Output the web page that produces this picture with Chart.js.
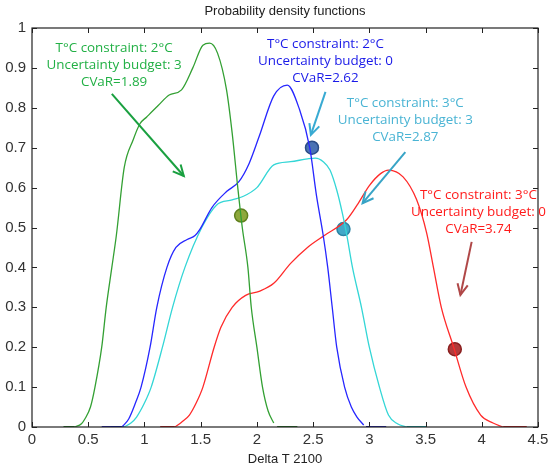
<!DOCTYPE html>
<html>
<head>
<meta charset="utf-8">
<script src="https://cdn.jsdelivr.net/npm/chart.js@4.4.1/dist/chart.umd.min.js"></script>
<style>
html,body{margin:0;padding:0;background:#fff;}
#wrap{width:550px;height:469px;position:relative;}
</style>
</head>
<body>
<div id="wrap"><canvas id="c" width="550" height="469"></canvas></div>
<script>
// ---- data ----
const xTicks = [0, 0.5, 1, 1.5, 2, 2.5, 3, 3.5, 4, 4.5];
const yTicks = [0, 0.1, 0.2, 0.3, 0.4, 0.5, 0.6, 0.7, 0.8, 0.9, 1];
const xTickLabels = ['0', '0.5', '1', '1.5', '2', '2.5', '3', '3.5', '4', '4.5'];
const yTickLabels = ['0', '0.1', '0.2', '0.3', '0.4', '0.5', '0.6', '0.7', '0.8', '0.9', '1'];

// green: T 2°C, budget 3
const greenX = [0.38, 0.44, 0.47, 0.52, 0.56, 0.62, 0.66, 0.71, 0.75, 0.82, 0.9, 0.96, 1.02, 1.12, 1.22, 1.33, 1.43, 1.52, 1.58, 1.65, 1.73, 1.78, 1.83, 1.87, 1.92, 1.95, 2.0, 2.05, 2.1, 2.15];
const greenY = [0.0, 0.008, 0.02, 0.05, 0.1, 0.2, 0.3, 0.4, 0.48, 0.65, 0.72, 0.76, 0.777, 0.805, 0.832, 0.845, 0.9, 0.957, 0.962, 0.937, 0.845, 0.737, 0.6, 0.5, 0.4, 0.3, 0.2, 0.1, 0.04, 0.01];
const greenFlatX = [[0.28, 0.38], [2.18, 2.36]];

// blue: T 2°C, budget 0
const blueX = [0.8, 0.86, 0.92, 0.97, 1.05, 1.11, 1.2, 1.28, 1.38, 1.45, 1.49, 1.6, 1.73, 1.84, 1.93, 2.02, 2.15, 2.27, 2.38, 2.47, 2.53, 2.59, 2.63, 2.67, 2.71, 2.78, 2.84, 2.89, 2.95];
const blueY = [0.0, 0.02, 0.06, 0.1, 0.2, 0.3, 0.4, 0.45, 0.47, 0.48, 0.494, 0.55, 0.59, 0.615, 0.66, 0.728, 0.83, 0.857, 0.795, 0.70, 0.58, 0.48, 0.4, 0.3, 0.2, 0.1, 0.05, 0.025, 0.005];
const blueFlatX = [[0.62, 0.8], [2.97, 3.15]];

// cyan: T 3°C, budget 3
const cyanX = [0.82, 0.88, 0.93, 1.0, 1.06, 1.16, 1.25, 1.36, 1.51, 1.64, 1.78, 1.87, 2.0, 2.15, 2.3, 2.45, 2.52, 2.59, 2.65, 2.71, 2.76, 2.8, 2.85, 2.93, 3.0, 3.09, 3.17, 3.25, 3.33];
const cyanY = [0.0, 0.01, 0.025, 0.06, 0.1, 0.2, 0.3, 0.4, 0.5, 0.556, 0.569, 0.577, 0.6, 0.657, 0.665, 0.672, 0.674, 0.665, 0.644, 0.594, 0.536, 0.48, 0.4, 0.3, 0.2, 0.1, 0.03, 0.008, 0.0];
const cyanFlatX = [[0.7, 0.82], [3.33, 3.51]];

// red: T 3°C, budget 0
const redX = [1.27, 1.33, 1.4, 1.46, 1.52, 1.62, 1.68, 1.78, 1.9, 2.02, 2.15, 2.3, 2.45, 2.6, 2.8, 2.9, 3.0, 3.1, 3.17, 3.3, 3.42, 3.51, 3.57, 3.64, 3.75, 3.86, 3.99, 4.1, 4.19];
const redY = [0.0, 0.012, 0.03, 0.06, 0.1, 0.2, 0.25, 0.3, 0.33, 0.34, 0.36, 0.41, 0.45, 0.48, 0.52, 0.56, 0.605, 0.635, 0.644, 0.627, 0.57, 0.486, 0.4, 0.3, 0.2, 0.1, 0.03, 0.01, 0.0];
const redFlatX = [[1.14, 1.27], [4.19, 4.4]];

// CVaR markers
const markerX = [1.86, 2.49, 2.77, 3.76];
const markerY = [0.53, 0.70, 0.496, 0.195];

// annotation texts
const labelLines = [
  ["T°C constraint: 2°C", "Uncertainty budget: 3", "CVaR=1.89"],
  ["T°C constraint: 2°C", "Uncertainty budget: 0", "CVaR=2.62"],
  ["T°C constraint: 3°C", "Uncertainty budget: 3", "CVaR=2.87"],
  ["T°C constraint: 3°C", "Uncertainty budget: 0", "CVaR=3.74"]
];
const labelX = [0.73, 2.61, 3.32, 3.97];
const labelY = [0.95, 0.96, 0.812, 0.581];
const arrowFrom = [[0.71, 0.835], [2.61, 0.84], [3.32, 0.689], [3.91, 0.464]];
const arrowTo = [[1.35, 0.629], [2.48, 0.732], [2.94, 0.561], [3.81, 0.331]];

// ---- styles ----
const lineColors = ['#33a033', '#2626ff', '#33d6d6', '#ff2a2a'];
const flatColors = ['#0a6a0a', '#0000b0', '#00a8a8', '#cc0000'];
const markerFill = ['#8ea83c', '#4a72b4', '#42a8c8', '#b23a3a'];
const markerBorder = ['#60801e', '#2a4c86', '#2a84a4', '#8a2020'];
const textColors = ['#22b045', '#1a1ae8', '#4ab4d4', '#ff1a1a'];
const arrowColors = ['#1aa040', '#38aad2', '#38a4c6', '#b04848'];

function pts(xs, ys){ return xs.map((x,i)=>({x:x,y:ys[i]})); }
function curve(xs, ys, color){
  return {data: pts(xs, ys), showLine:true, borderColor:color, borderWidth:1.3, pointRadius:0, cubicInterpolationMode:'monotone', fill:false};
}
function flats(segs, color){
  return segs.map(s=>({data:[{x:s[0],y:0},{x:s[1],y:0}], showLine:true, borderColor:color, borderWidth:1.8, pointRadius:0, fill:false}));
}

const datasets = [];
datasets.push(curve(greenX, greenY, lineColors[0]));
datasets.push(curve(blueX, blueY, lineColors[1]));
datasets.push(curve(cyanX, cyanY, lineColors[2]));
datasets.push(curve(redX, redY, lineColors[3]));
[greenFlatX, blueFlatX, cyanFlatX, redFlatX].forEach((s,i)=>flats(s, flatColors[i]).forEach(d=>datasets.push(d)));
datasets.push({
  data: pts(markerX, markerY), showLine:false, pointRadius:6.5, pointHoverRadius:6.5,
  pointBackgroundColor: markerFill, pointBorderColor: markerBorder, pointBorderWidth:1.5
});

const FONT = '"Liberation Sans", Arial, sans-serif';

const decor = {
  id:'decor',
  afterDraw(chart){
    const ctx = chart.ctx, xs = chart.scales.x, ys = chart.scales.y, a = chart.chartArea;
    ctx.save();
    // box
    ctx.strokeStyle = '#222'; ctx.lineWidth = 1.2;
    ctx.strokeRect(a.left, a.top, a.right - a.left, a.bottom - a.top);
    // ticks inward on all four sides
    ctx.lineWidth = 1;
    const tl = 5;
    xTicks.forEach(v=>{
      const p = Math.round(xs.getPixelForValue(v)) + 0.5;
      ctx.beginPath(); ctx.moveTo(p, a.bottom); ctx.lineTo(p, a.bottom - tl); ctx.stroke();
      ctx.beginPath(); ctx.moveTo(p, a.top); ctx.lineTo(p, a.top + tl); ctx.stroke();
    });
    yTicks.forEach(v=>{
      const p = Math.round(ys.getPixelForValue(v)) + 0.5;
      ctx.beginPath(); ctx.moveTo(a.left, p); ctx.lineTo(a.left + tl, p); ctx.stroke();
      ctx.beginPath(); ctx.moveTo(a.right, p); ctx.lineTo(a.right - tl, p); ctx.stroke();
    });
    // tick labels
    ctx.fillStyle = '#333';
    ctx.font = '15px ' + FONT;
    ctx.textBaseline = 'middle';
    ctx.textAlign = 'center';
    xTicks.forEach((v,i)=> ctx.fillText(xTickLabels[i], xs.getPixelForValue(v), a.bottom + 13));
    ctx.textAlign = 'right';
    yTicks.forEach((v,i)=> ctx.fillText(yTickLabels[i], a.left - 6, ys.getPixelForValue(v)));
    // title and x label
    ctx.fillStyle = '#222';
    ctx.font = '13px ' + FONT;
    ctx.textAlign = 'center'; ctx.textBaseline = 'middle';
    ctx.fillText('Probability density functions', (a.left + a.right)/2, 11);
    ctx.fillText('Delta T 2100', (a.left + a.right)/2, 459);
    // annotations
    ctx.font = '13.4px "Open Sans", ' + FONT;
    labelLines.forEach((lines, i)=>{
      ctx.fillStyle = textColors[i];
      const cx = xs.getPixelForValue(labelX[i]);
      const cy = ys.getPixelForValue(labelY[i]);
      lines.forEach((t, j)=> ctx.fillText(t, cx, cy + j*17));
    });
    // arrows
    arrowFrom.forEach((f, i)=>{
      const x1 = xs.getPixelForValue(f[0]), y1 = ys.getPixelForValue(f[1]);
      const x2 = xs.getPixelForValue(arrowTo[i][0]), y2 = ys.getPixelForValue(arrowTo[i][1]);
      ctx.strokeStyle = arrowColors[i]; ctx.lineWidth = 2;
      ctx.beginPath(); ctx.moveTo(x1, y1); ctx.lineTo(x2, y2); ctx.stroke();
      const ang = Math.atan2(y2 - y1, x2 - x1), hl = 12, ha = 0.45;
      ctx.beginPath();
      ctx.moveTo(x2 - hl*Math.cos(ang - ha), y2 - hl*Math.sin(ang - ha));
      ctx.lineTo(x2, y2);
      ctx.lineTo(x2 - hl*Math.cos(ang + ha), y2 - hl*Math.sin(ang + ha));
      ctx.stroke();
    });
    ctx.restore();
  }
};

new Chart(document.getElementById('c'), {
  type: 'scatter',
  data: { datasets: datasets },
  options: {
    responsive: false,
    animation: false,
    events: [],
    layout: { padding: { left: 0, right: 12, top: 28, bottom: 0 } },
    plugins: { legend: { display:false }, tooltip: { enabled:false }, title: { display:false } },
    scales: {
      x: {
        type:'linear', min:0, max:4.5,
        afterFit(s){ s.height = 42; },
        afterBuildTicks(s){ s.ticks = xTicks.map(v=>({value:v})); },
        grid: { display:false },
        border: { display:false },
        ticks: { display:false }
      },
      y: {
        type:'linear', min:0, max:1,
        afterFit(s){ s.width = 32; },
        afterBuildTicks(s){ s.ticks = yTicks.map(v=>({value:v})); },
        grid: { display:false },
        border: { display:false },
        ticks: { display:false }
      }
    }
  },
  plugins: [decor]
});
</script>
</body>
</html>
